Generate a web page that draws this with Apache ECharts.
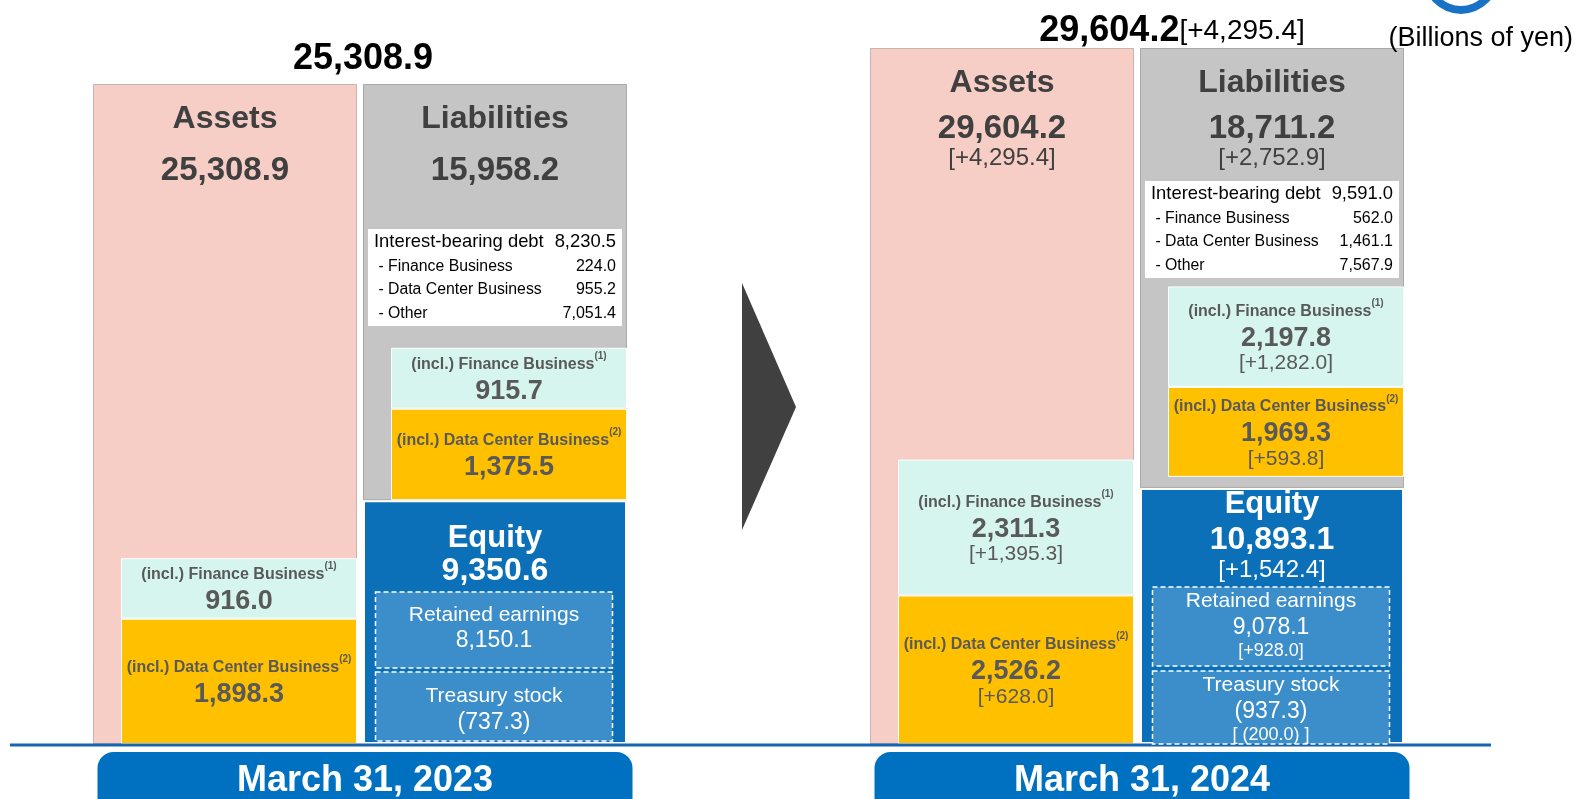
<!DOCTYPE html>
<html>
<head>
<meta charset="utf-8">
<script src="https://cdn.jsdelivr.net/npm/echarts@6/dist/echarts.min.js"></script>
<style>
html, body { margin: 0; padding: 0; background: #fff; }
#main { width: 1575px; height: 799px; }
</style>
</head>
<body>
<div id="main"></div>
<script>
// ---- data (billions of yen) ----
var periods = ['March 31, 2023', 'March 31, 2024'];
var assets = [25308.9, 29604.2];
var liabilities = [15958.2, 18711.2];
var equity = [9350.6, 10893.1];
var assetsFinance = [916.0, 2311.3];
var assetsDataCenter = [1898.3, 2526.2];
var liabFinance = [915.7, 2197.8];
var liabDataCenter = [1375.5, 1969.3];
var retainedEarnings = [8150.1, 9078.1];
var treasuryStock = [-737.3, -937.3];
var debtItems = ['Interest-bearing debt', '- Finance Business', '- Data Center Business', '- Other'];
var debt2023 = [8230.5, 224.0, 955.2, 7051.4];
var debt2024 = [9591.0, 562.0, 1461.1, 7567.9];
// year-on-year changes as printed (only shown for 2024)
var assetsChange = [null, 4295.4];
var liabilitiesChange = [null, 2752.9];
var equityChange = [null, 1542.4];
var assetsFinanceChange = [null, 1395.3];
var assetsDataCenterChange = [null, 628.0];
var liabFinanceChange = [null, 1282.0];
var liabDataCenterChange = [null, 593.8];
var retainedChange = [null, 928.0];
var treasuryChange = [null, -200.0];
var debtByPeriod = [debt2023, debt2024];

var FONT = "'Liberation Sans', Arial, sans-serif";
var BASE_Y = 744;
var MAIN_W = 264, INNER_W = 236, INNER_SHIFT = 28;
var BAR_GAP = ((INNER_SHIFT / MAIN_W - 1) * 100).toFixed(4) + '%';
var ROW_H = [26, 23, 23, 25];

// layout only (inner boxes are drawn on enlarged scales, like the original slide)
var lay = [
    {left: 90, width: 540, top: 84, rA: 2.531, rL: 2.55, lift: 0,
     head: {d: 7, t: 56, v: 48, c: 20}, tableGap: 34,
     eq: {d: 20, t: 36, v: 30, c: 20},
     boxes: {bottomGap: 3, h: [76, 69], gap: 4, dy: [-2, 3]}, totalDx: 3, totalDy: 25},
    {left: 867, width: 540, top: 48, rA: 2.501, rL: 1.944, lift: 11,
     head: {d: 7, t: 56, v: 36, c: 22}, tableGap: 12,
     eq: {d: 0, t: 34, v: 36, c: 24},
     boxes: {bottomGap: 0, h: [79, 73], gap: 5, dy: [-1, 2]}, totalDx: 35, totalDy: 17}
];

function num(v) {
    var p = Math.abs(v).toFixed(1).split('.');
    return p[0].replace(/\B(?=(\d{3})+(?!\d))/g, ',') + '.' + p[1];
}
function fmt(v) {
    return v < 0 ? '(' + num(v) + ')' : num(v);
}
function fmtChg(v) {
    return v < 0 ? '[ (' + num(v) + ') ]' : '[+' + num(v) + ']';
}

function headRich(L, color, sizes) {
    return {
        t: {fontFamily: FONT, fontWeight: 'bold', fontSize: sizes[0], color: color, lineHeight: L.t},
        v: {fontFamily: FONT, fontWeight: 'bold', fontSize: sizes[1], color: color, lineHeight: L.v},
        c: {fontFamily: FONT, fontSize: sizes[2], color: color, lineHeight: L.c}
    };
}

function tableRich(rich, gap) {
    rich.gap = {fontSize: 4, lineHeight: gap};
    for (var i = 0; i < ROW_H.length; i++) {
        var row = {height: ROW_H[i], lineHeight: ROW_H[i], backgroundColor: '#fff',
                   color: '#000', fontFamily: FONT};
        rich['pl' + i] = echarts.util.extend({width: 6, align: 'left', fontSize: 10}, row);
        rich['pr' + i] = echarts.util.extend({width: 6, align: 'right', fontSize: 10}, row);
        rich['l' + i] = echarts.util.extend({width: 173, align: 'left', fontSize: i === 0 ? 18.4 : 15.8}, row);
        rich['v' + i] = echarts.util.extend({width: 69, align: 'right', fontSize: i === 0 ? 18.4 : 16}, row);
    }
    return rich;
}

var innerRich = {
    t: {fontFamily: FONT, fontWeight: 'bold', fontSize: 16, color: '#595959', lineHeight: 26},
    s: {fontFamily: FONT, fontWeight: 'bold', fontSize: 10, color: '#595959', lineHeight: 26, verticalAlign: 'top'},
    v: {fontFamily: FONT, fontWeight: 'bold', fontSize: 27, color: '#595959', lineHeight: 28},
    c: {fontFamily: FONT, fontSize: 21, color: '#595959', lineHeight: 22}
};

function headText(title, value, change) {
    var s = '{t|' + title + '}\n{v|' + fmt(value) + '}';
    if (change != null) s += '\n{c|' + fmtChg(change) + '}';
    return s;
}

function innerText(title, sup, value, change) {
    var s = '{t|(incl.) ' + title + '}{s|(' + sup + ')}\n{v|' + fmt(value) + '}';
    if (change != null) s += '\n{c|' + fmtChg(change) + '}';
    return s;
}

function labelOf(position, distance, rich, text) {
    return {
        show: true, position: position, distance: distance,
        color: '#404040', textBorderWidth: 0, textBorderColor: 'transparent',
        rich: rich,
        formatter: function () { return text; }
    };
}

function bar(g, name, yIdx, stack, width, values, color, border, label) {
    return {
        type: 'bar', name: name, xAxisIndex: g, yAxisIndex: yIdx, stack: stack,
        barWidth: width, barGap: BAR_GAP, data: values,
        itemStyle: {color: color, borderColor: border[0], borderWidth: border[1]},
        label: label, silent: true, emphasis: {disabled: true}
    };
}

var grids = [], xAxes = [], yAxes = [], series = [];

function buildPeriod(g) {
    var L = lay[g];
    var h = BASE_Y - L.top;
    grids.push({left: L.left, width: L.width, top: L.top, height: h});
    xAxes.push({type: 'category', gridIndex: g, data: ['Assets', 'Liabilities and equity'], show: false});
    yAxes.push({type: 'value', gridIndex: g, min: 0, max: assets[g], show: false});
    yAxes.push({type: 'value', gridIndex: g, min: 0, max: assets[g] / L.rA, show: false});
    var span = assets[g] / L.rL;
    var lMin = -equity[g] / L.rL - L.lift * span / h;
    yAxes.push({type: 'value', gridIndex: g, min: lMin, max: lMin + span, show: false});

    var yMain = 3 * g, yA = 3 * g + 1, yL = 3 * g + 2;
    var mainStack = 'main' + g, innerStack = 'inner' + g;

    // liabilities label with the interest-bearing debt table underneath
    var debt = debtByPeriod[g];
    var liabStr = headText('Liabilities', liabilities[g], liabilitiesChange[g]) + '\n{gap| }';
    for (var i = 0; i < debtItems.length; i++) {
        var lab = i === 0 ? debtItems[i] : ' ' + debtItems[i];
        liabStr += '\n{pl' + i + '| }{l' + i + '|' + lab + '}{v' + i + '|' + fmt(debt[i]) + '}{pr' + i + '| }';
    }

    series.push(bar(g, 'Assets', yMain, mainStack, MAIN_W, [assets[g], '-'],
        '#f6cec6', ['#c9b3ae', 1],
        labelOf('insideTop', L.head.d, headRich(L.head, '#404040', [32, 33, 24]),
            headText('Assets', assets[g], assetsChange[g]))));
    series.push(bar(g, 'Equity', yMain, mainStack, MAIN_W, ['-', equity[g]],
        '#0b70b8', ['#ffffff', 2],
        labelOf('insideTop', L.eq.d, headRich(L.eq, '#ffffff', [31, 32, 24]),
            headText('Equity', equity[g], equityChange[g]))));
    series.push(bar(g, 'Liabilities', yMain, mainStack, MAIN_W, ['-', liabilities[g]],
        '#c5c5c5', ['#a9a9a9', 1],
        labelOf('insideTop', L.head.d,
            tableRich(headRich(L.head, '#404040', [32, 33, 24]), L.tableGap), liabStr)));

    series.push(bar(g, 'Assets - Data Center Business', yA, innerStack, INNER_W, [assetsDataCenter[g], '-'],
        '#ffc000', ['#ffffff', 1],
        labelOf('inside', 0, innerRich,
            innerText('Data Center Business', 2, assetsDataCenter[g], assetsDataCenterChange[g]))));
    series.push(bar(g, 'Assets - Finance Business', yA, innerStack, INNER_W, [assetsFinance[g], '-'],
        '#d6f5ee', ['#ffffff', 1],
        labelOf('inside', 0, innerRich,
            innerText('Finance Business', 1, assetsFinance[g], assetsFinanceChange[g]))));
    series.push(bar(g, 'Liabilities - Data Center Business', yL, innerStack, INNER_W, ['-', liabDataCenter[g]],
        '#ffc000', ['#ffffff', 1],
        labelOf('inside', 0, innerRich,
            innerText('Data Center Business', 2, liabDataCenter[g], liabDataCenterChange[g]))));
    series.push(bar(g, 'Liabilities - Finance Business', yL, innerStack, INNER_W, ['-', liabFinance[g]],
        '#d6f5ee', ['#ffffff', 1],
        labelOf('inside', 0, innerRich,
            innerText('Finance Business', 1, liabFinance[g], liabFinanceChange[g]))));
}

buildPeriod(0);
buildPeriod(1);

var chart = echarts.init(document.getElementById('main'));
chart.setOption({
    animation: false,
    grid: grids,
    xAxis: xAxes,
    yAxis: yAxes,
    series: series
});

// annotations placed from the axes
function txt(x, y, text, rich, extra) {
    var style = {text: text, rich: rich, fontFamily: FONT,
                 align: 'center', verticalAlign: 'middle',
                 textAlign: 'center', textVerticalAlign: 'middle'};
    if (extra) echarts.util.extend(style, extra);
    return {type: 'text', x: x, y: y, z: 110, style: style};
}

var els = [];
els.push({type: 'line', z: 100, shape: {x1: 10, y1: 745, x2: 1491, y2: 745},
          style: {stroke: '#1565b0', lineWidth: 3}});
els.push({type: 'polygon', z: 100, shape: {points: [[742, 283], [796, 407], [742, 530]]},
          style: {fill: '#404040'}});
els.push({type: 'ring', z: 100, shape: {cx: 1461, cy: -24, r: 38, r0: 30},
          style: {fill: '#1a72c4'}});
els.push(txt(1573, 39, '{u|(Billions of yen)}',
    {u: {fontFamily: FONT, fontSize: 27, fill: '#000'}},
    {align: 'right', textAlign: 'right'}));

for (var g = 0; g < 2; g++) {
    var L = lay[g];
    var pA = chart.convertToPixel({xAxisIndex: g, yAxisIndex: 3 * g}, [0, assets[g]]);
    var pL = chart.convertToPixel({xAxisIndex: g, yAxisIndex: 3 * g}, [1, 0]);
    var mid = (pA[0] + pL[0]) / 2;

    // total on top
    var tot = '{a|' + fmt(assets[g]) + '}';
    if (assetsChange[g] != null) tot += '{b|' + fmtChg(assetsChange[g]) + '}';
    els.push(txt(mid + L.totalDx, pA[1] - L.totalDy, tot, {
        a: {fontFamily: FONT, fontWeight: 'bold', fontSize: 36, fill: '#000'},
        b: {fontFamily: FONT, fontSize: 28, fill: '#000'}
    }));

    // date pill
    els.push({type: 'rect', z: 100, shape: {x: mid + 5 - 267.5, y: 752, width: 535, height: 64, r: 16},
              style: {fill: '#0070c0'}});
    els.push(txt(mid + 5, 781, '{d|' + periods[g] + '}', {
        d: {fontFamily: FONT, fontWeight: 'bold', fontSize: 36, fill: '#fff'}
    }));

    // retained earnings / treasury stock boxes inside equity
    var B = L.boxes;
    var bw = 237;
    var bx = pL[0] - 1 - bw / 2;
    var tY = pL[1] - B.bottomGap - B.h[1];
    var rY = tY - B.gap - B.h[0];
    var boxStyle = {fill: '#3b8ec9', stroke: '#ffffff', lineWidth: 1.5, lineDash: [5, 3]};
    var boxRich = {
        a: {fontFamily: FONT, fontSize: 21, fill: '#fff', lineHeight: 26},
        b: {fontFamily: FONT, fontSize: 23, fill: '#fff', lineHeight: 26},
        c: {fontFamily: FONT, fontSize: 18, fill: '#fff', lineHeight: 22}
    };
    els.push({type: 'rect', z: 105, shape: {x: bx, y: rY, width: bw, height: B.h[0]}, style: boxStyle});
    els.push({type: 'rect', z: 105, shape: {x: bx, y: tY, width: bw, height: B.h[1]}, style: boxStyle});
    var rs = '{a|Retained earnings}\n{b|' + fmt(retainedEarnings[g]) + '}';
    if (retainedChange[g] != null) rs += '\n{c|' + fmtChg(retainedChange[g]) + '}';
    var ts = '{a|Treasury stock}\n{b|' + fmt(treasuryStock[g]) + '}';
    if (treasuryChange[g] != null) ts += '\n{c|' + fmtChg(treasuryChange[g]) + '}';
    els.push(txt(bx + bw / 2, rY + B.h[0] / 2 + B.dy[0], rs, boxRich));
    els.push(txt(bx + bw / 2, tY + B.h[1] / 2 + B.dy[1], ts, boxRich));
}

chart.setOption({graphic: {elements: els}});
</script>
</body>
</html>
